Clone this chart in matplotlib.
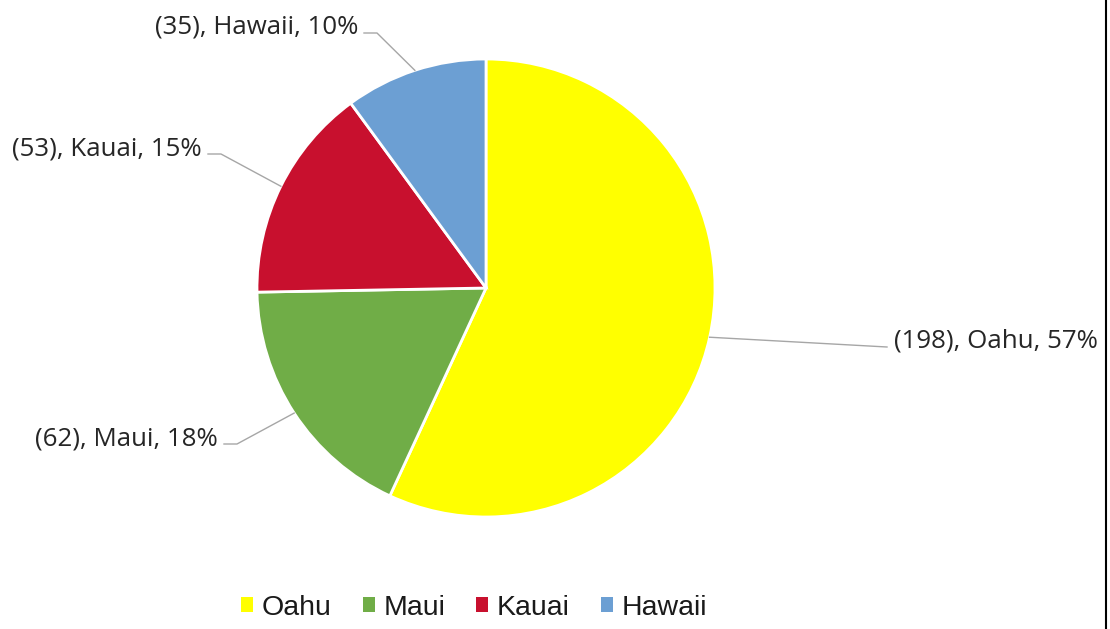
import matplotlib
matplotlib.use('Agg')
import matplotlib.pyplot as plt
import numpy as np

# data
islands = ['Oahu', 'Maui', 'Kauai', 'Hawaii']
counts = [198, 62, 53, 35]
colors = ['#FFFF00', '#70AD47', '#C8102E', '#6C9FD3']

# label layout in pixel units (x, baseline y from top, side)
label_pos = [(894, 348, 'left'), (218, 445, 'right'),
             (202, 155, 'right'), (358, 34, 'right')]

W, H = 1110, 629
fig = plt.figure(figsize=(W / 100, H / 100), dpi=100)
ax = fig.add_axes([0, 0, 1, 1])
ax.set_xlim(0, W)
ax.set_ylim(0, H)
ax.set_aspect('equal')
ax.axis('off')

cx, cy, r = 486, H - 288, 229
wedges, _ = ax.pie(counts, colors=colors, startangle=90, counterclock=False,
                   center=(cx, cy), radius=r,
                   wedgeprops=dict(edgecolor='white', linewidth=2))
ax.set_xlim(0, W)
ax.set_ylim(0, H)

total = sum(counts)
for w, n, name, (tx, ty, side) in zip(wedges, counts, islands, label_pos):
    pct = round(100 * n / total)
    ang = np.deg2rad((w.theta1 + w.theta2) / 2)
    ex, ey = cx + r * np.cos(ang), cy + r * np.sin(ang)
    y = H - ty
    ax.text(tx, y, f'({n}), {name}, {pct}%', ha=side, va='baseline',
            fontsize=18.6, family='Open Sans', color='#262626')
    if side == 'right':
        x0, x1 = tx + 6, tx + 19
    else:
        x0, x1 = tx - 7, tx - 7
    ax.plot([ex, x1, x0], [ey, y + 1, y + 1], color='#A6A6A6', lw=1)

leg = fig.legend(wedges, islands, loc='center', ncol=4,
                 bbox_to_anchor=(474 / W, 1 - 608 / H), frameon=False,
                 prop=dict(family='Liberation Sans', size=20.5),
                 handlelength=0.42, handleheight=0.42, handletextpad=0.3,
                 columnspacing=1.1)
for t in leg.get_texts():
    t.set_color('#1a1a1a')
for p in leg.get_patches():
    p.set_edgecolor('none')

# right border of the scanned chart frame
fig.add_artist(plt.Line2D([1106 / W, 1106 / W], [0, 1], color='black', lw=1.5,
                          transform=fig.transFigure))

fig.savefig('out.png', dpi=100)
